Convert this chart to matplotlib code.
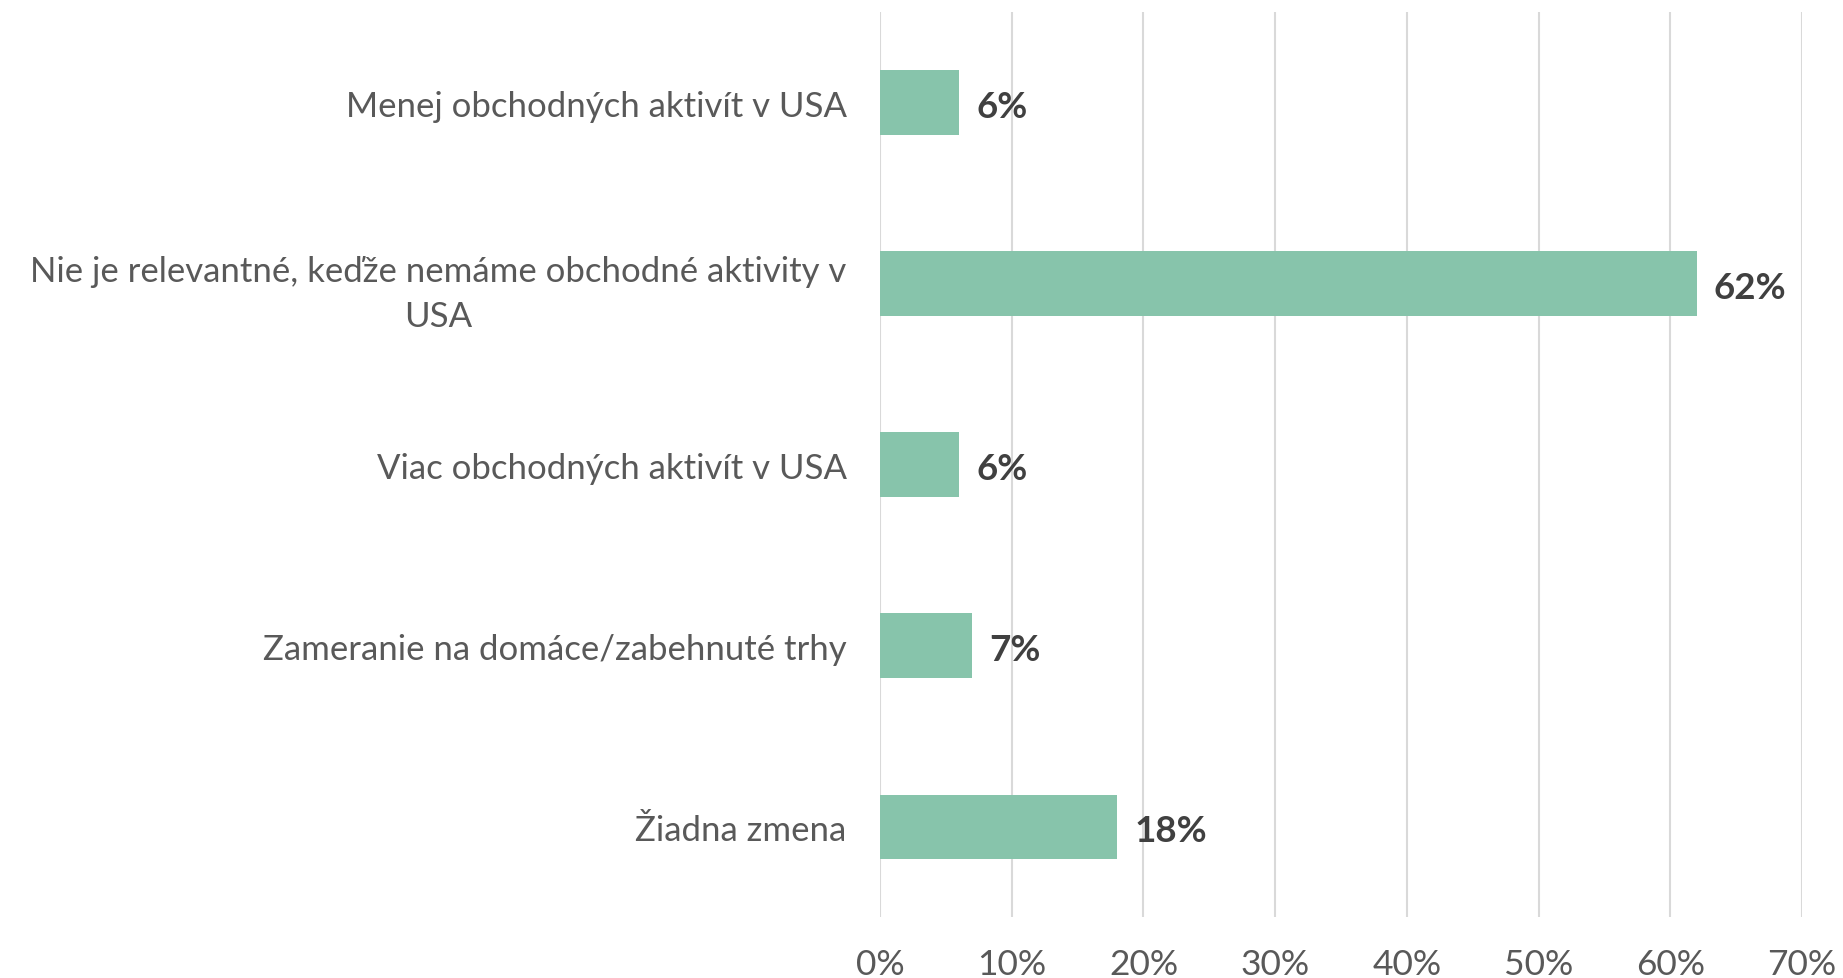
import matplotlib.pyplot as plt
from matplotlib.ticker import FuncFormatter

categories = [
    "Menej obchodných aktivít v USA",
    "Nie je relevantné, keďže nemáme obchodné aktivity v\nUSA",
    "Viac obchodných aktivít v USA",
    "Zameranie na domáce/zabehnuté trhy",
    "Žiadna zmena",
]
values = [6, 62, 6, 7, 18]
x_ticks = [0, 10, 20, 30, 40, 50, 60, 70]

plt.rcParams["font.family"] = ["Lato", "DejaVu Sans"]

fig = plt.figure(figsize=(18.43, 9.79), dpi=100)
ax = fig.add_axes([0.4775, 0.062, 0.5003, 0.9247])

ypos = list(range(len(categories)))[::-1]
ax.barh(ypos, values, height=0.356, color="#87C4AB", zorder=3)

for y, v in zip(ypos, values):
    ax.text(v + 1.3, y - 0.02, f"{v}%", va="center", ha="left", fontsize=26.5,
            fontweight="bold", color="#404040")

ax.set_xlim(0, 70)
ax.set_ylim(-0.5, 4.5)
ax.set_xticks(x_ticks)
ax.xaxis.set_major_formatter(FuncFormatter(lambda v, p: f"{int(v)}%"))
ax.set_yticks(ypos)
ax.set_yticklabels(categories, multialignment="center", linespacing=1.5)
ax.tick_params(axis="x", length=0, pad=22, labelsize=25.5, labelcolor="#595959")
ax.tick_params(axis="y", length=0, pad=24, labelsize=25, labelcolor="#595959")
ax.grid(axis="x", color="#D9D9D9", linewidth=1.5, zorder=0)
for s in ax.spines.values():
    s.set_visible(False)

fig.savefig("out.png", dpi=100)
